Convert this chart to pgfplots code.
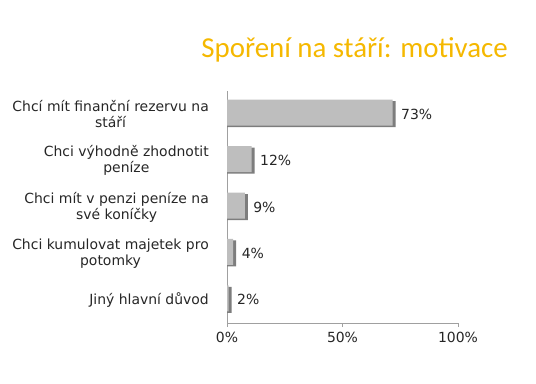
\documentclass[border=0pt]{standalone}
\usepackage{pgfplots}
\pgfplotsset{compat=1.18}
\usepackage{fontspec}
\setmainfont{DejaVu Sans}
\newfontfamily\titlefont{Carlito}
\definecolor{titleorange}{RGB}{245,184,0}
\definecolor{axisgray}{RGB}{160,160,160}
\definecolor{barfill}{RGB}{190,190,190}
\definecolor{baredge}{RGB}{125,125,125}
\begin{document}
\begin{tikzpicture}[x=1bp,y=1bp]
\useasboundingbox (0,0) rectangle (536,383);
\node[anchor=base east, font=\titlefont\fontsize{29}{34}\selectfont, text=titleorange, inner sep=0pt] at (508,326) {Spoření na stáří: motivace};
\begin{axis}[
  at={(227bp,60bp)}, anchor=south west,
  scale only axis, width=231bp, height=232bp,
  xbar, bar width=26bp, bar shift=0pt,
  xmin=0, xmax=100,
  ymin=-0.5, ymax=4.5, y dir=reverse,
  axis lines=left, axis line style={-, draw=axisgray},
  xtick={0,50,100},
  xticklabel={\pgfmathprintnumber{\tick}\%},
  /pgf/number format/assume math mode=true,
  xtick style={draw=axisgray},
  tick align=outside,
  major tick length=4bp,
  ytick={0,1,2,3,4},
  yticklabels={{Chcí mít finanční rezervu na\\stáří},{Chci výhodně zhodnotit\\peníze},{Chci mít v penzi peníze na\\své koníčky},{Chci kumulovat majetek pro\\potomky},{Jiný hlavní důvod}},
  ytick style={draw=none},
  minor ytick={-0.5,0.5,1.5,2.5,3.5,4.5},
  minor tick style={draw=axisgray},
  minor tick length=5bp,
  yticklabel style={align=center, font=\fontsize{14}{16}\selectfont, inner xsep=0pt, xshift=-14bp, text=black!85},
  xticklabel style={font=\fontsize{14}{16}\selectfont, yshift=-2bp, text=black!85},
  point meta=x,
]
\addplot[draw=none, fill=baredge,
  nodes near coords={\pgfmathprintnumber{\pgfplotspointmeta}\%},
  every node near coord/.append style={font=\fontsize{14}{16}\selectfont, anchor=west, xshift=2bp, text=black!85, /pgf/number format/assume math mode=true}]
  coordinates {(73,0) (12,1) (9,2) (4,3) (2,4)};
\addplot[draw=none, fill=barfill, xshift=-3bp, yshift=1.5bp]
  coordinates {(73,0) (12,1) (9,2) (4,3) (2,4)};
\end{axis}
\end{tikzpicture}
\end{document}
